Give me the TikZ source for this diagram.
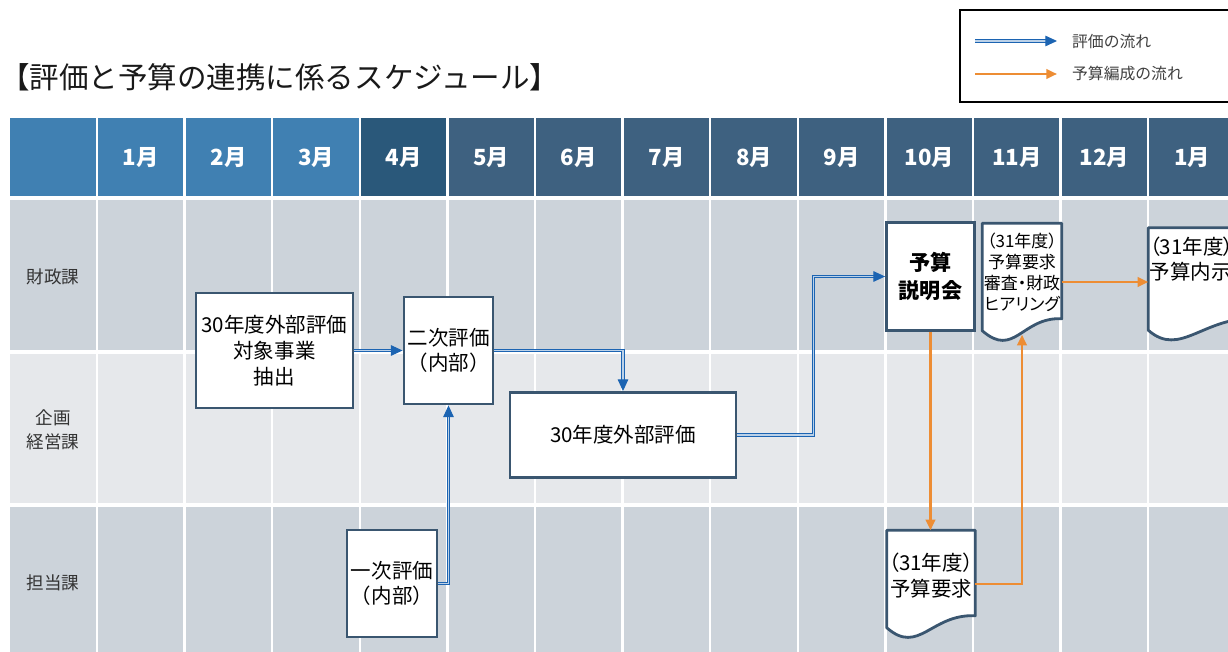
\documentclass[tikz,border=0pt]{standalone}
\usepackage{fontspec}
\setmainfont{Noto Sans CJK JP}
\newfontfamily\jpp[RawFeature=+palt]{Noto Sans CJK JP}
\usepackage{tikz}
\usetikzlibrary{arrows.meta,backgrounds,calc,positioning}
\definecolor{hdrA}{RGB}{64,128,178}
\definecolor{hdrB}{RGB}{42,88,122}
\definecolor{hdrC}{RGB}{62,97,128}
\definecolor{rowA}{RGB}{204,211,218}
\definecolor{rowB}{RGB}{230,232,235}
\definecolor{boxline}{RGB}{58,86,112}
\definecolor{evalblue}{RGB}{28,100,178}
\definecolor{budorange}{RGB}{237,141,52}

\begin{document}
\begin{tikzpicture}[x=0.03cm,y=-0.03cm,
  taskbox/.style={draw=boxline,line width=2.4pt,fill=white,align=center,inner sep=1pt,font=\fontsize{17.5}{22}\selectfont},
  docnode/.style={align=center,inner sep=1pt},
  docline/.style={draw=boxline,line width=2.4pt,fill=white,line join=round},
  monthlabel/.style={text=white,font=\bfseries\fontsize{19}{19}\selectfont},
  rowlabel/.style={text=black!80,align=center,font=\fontsize{15}{21}\selectfont},
  evalflow/.style={draw=evalblue,line width=0.9pt,double=white!70!evalblue,double distance=1.1pt,-{Triangle[length=10pt,width=9pt]}},
  budflow/.style={draw=budorange,line width=2pt,-{Triangle[length=9pt,width=8pt]}}]
\useasboundingbox (0,0) rectangle (1228,652);

% table
\begin{scope}[on background layer]
\fill[hdrC] (10,118) rectangle (1240,196);
\fill[hdrA] (10,118) rectangle (360,196);
\fill[hdrB] (360,118) rectangle (448,196);
\fill[rowA] (10,200) rectangle (1240,352);
\fill[rowB] (10,352) rectangle (1240,505);
\fill[rowA] (10,505) rectangle (1240,660);
\foreach \i in {0,...,13}
  \draw[white,line width=2pt] (97+87.6*\i,118) -- (97+87.6*\i,660);
\draw[white,line width=3pt] (10,352) -- (1240,352) (10,505) -- (1240,505);
\end{scope}

\foreach \m [count=\i] in {1,2,3,4,5,6,7,8,9,10,11,12,1}
  \node[monthlabel] (m\i) at (97+87.6*\i-43.8,158) {\m{}月};

\node[rowlabel] (zaisei) at (53,277) {財政課};
\node[rowlabel] (kikaku) at (53,430) {企画\\経営課};
\node[rowlabel] (tanto) at (53,583) {担当課};

\node[anchor=west,inner sep=0pt,text=black!90,font=\fontsize{25.2}{28}\selectfont] (title) at (0,77) {【評価と予算の連携に係るスケジュール】};

% legend
\draw[black,line width=1pt] (960,10) rectangle (1240,102);
\coordinate (la) at (975,41);
\coordinate (lb) at (1057,41);
\coordinate (lc) at (975,74);
\coordinate (ld) at (1057,74);
\draw[evalflow] (la) -- (lb);
\draw[budflow] (lc) -- (ld);
\node[anchor=west,text=black!75,font=\fontsize{13.5}{16}\selectfont] (legeval) at (1068,41) {評価の流れ};
\node[anchor=west,text=black!75,font=\fontsize{13.5}{16}\selectfont] (legbud) at (1068,74) {予算編成の流れ};

% boxes
\node[taskbox,minimum width=4.71cm,minimum height=3.45cm] (extract) at (274.5,350.5) {30年度外部評価\\対象事業\\抽出};
\node[taskbox,minimum width=2.67cm,minimum height=3.21cm] (second) at (448.5,350.5) {二次評価\\（内部）};
\node[taskbox,minimum width=6.78cm,minimum height=2.55cm] (external) at (623,435) {30年度外部評価};
\node[taskbox,minimum width=2.70cm,minimum height=3.21cm] (first) at (392,583.5) {一次評価\\（内部）};
\node[taskbox,font=\bfseries\fontsize{18}{24}\selectfont,minimum width=2.64cm,minimum height=3.24cm] (briefing) at (930.5,276.5) {予算\\説明会};

\node[docnode,minimum width=2.37cm,minimum height=3.51cm,font=\jpp\fontsize{14.5}{18}\selectfont] (hearing) at (1022,282) {（31年度）\\予算要求\\審査・財政\\ヒアリング\\\mbox{}};
\node[docnode,text width=3.2cm,align=left,minimum height=3.36cm,font=\jpp\fontsize{17.5}{22}\selectfont] (naiji) at (1203,284) {（31年度）\\予算内示\\\mbox{}\\\mbox{}};
\node[docnode,minimum width=2.64cm,minimum height=3.21cm,font=\jpp\fontsize{17.5}{22}\selectfont] (request) at (931,584) {（31年度）\\予算要求\\[-6pt]\mbox{}};
\coordinate (hearingtip) at ($(hearing.south)+(0,-6)$);

\begin{scope}[on background layer]
\foreach \d in {hearing,naiji,request}
  \draw[docline] (\d.north west) -- (\d.north east) -- ($(\d.south east)+(0,-22)$)
    .. controls ($(\d.south)+(0,-24)$) and ($(\d.south west)+(32,18)$) .. ($(\d.south west)+(0,-10)$) -- cycle;
\end{scope}

% flows
\draw[evalflow] (extract.east) -- (second.west);
\draw[evalflow] (second.east) -| (external.north);
\draw[evalflow] (first.east) -| (second.south);
\draw[evalflow] (external.east) -- ++(76,0) |- (briefing.west);
\draw[budflow] (briefing.south) -- (briefing.south |- request.north);
\draw[budflow] (request.east) -| (hearingtip);
\draw[budflow] (hearing.east) -- (naiji.west |- hearing.east);
\end{tikzpicture}
\end{document}
